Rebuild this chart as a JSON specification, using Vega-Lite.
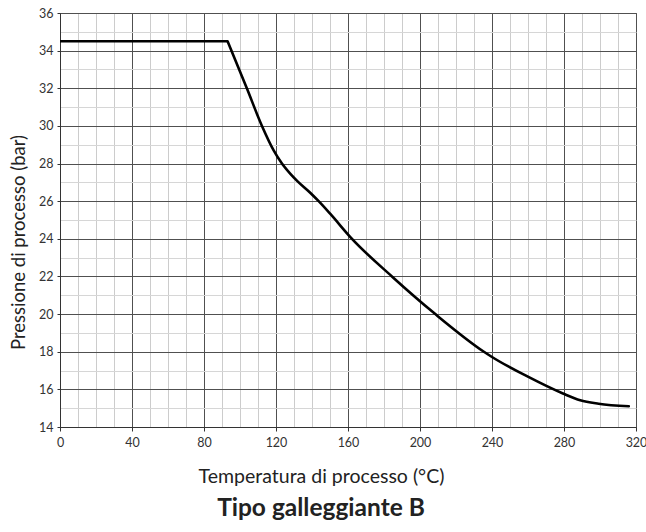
{
  "$schema": "https://vega.github.io/schema/vega-lite/v6.json",
  "autosize": {"type": "none"},
  "padding": {"left": 60, "top": 13, "right": 10, "bottom": 105},
  "width": 576,
  "height": 414,
  "background": "white",
  "config": {
    "view": {"stroke": "#555555", "strokeWidth": 1},
    "font": "Lato"
  },
  "title": {
    "text": "Tipo galleggiante B",
    "orient": "bottom",
    "anchor": "middle",
    "dx": -27,
    "offset": 11,
    "fontSize": 24.5,
    "fontWeight": "bold",
    "color": "#222222",
    "font": "Lato"
  },
  "datasets": {
    "flat": [
      {"t": 0, "p": 34.5},
      {"t": 93.1, "p": 34.5}
    ],
    "curve": [
      {"t": 93.1, "p": 34.5},
      {"t": 103.8, "p": 32.0},
      {"t": 112.2, "p": 30.0},
      {"t": 118.7, "p": 28.7},
      {"t": 123.3, "p": 28.0},
      {"t": 128, "p": 27.45},
      {"t": 132, "p": 27.05},
      {"t": 139, "p": 26.45},
      {"t": 143.7, "p": 26.0},
      {"t": 150.2, "p": 25.32},
      {"t": 161.7, "p": 24.05},
      {"t": 184.4, "p": 22.0},
      {"t": 208.5, "p": 20.0},
      {"t": 235.5, "p": 18.0},
      {"t": 240, "p": 17.72},
      {"t": 259.4, "p": 16.7},
      {"t": 279.4, "p": 15.78},
      {"t": 289, "p": 15.42},
      {"t": 299.2, "p": 15.24},
      {"t": 316, "p": 15.1}
    ]
  },
  "encoding": {
    "x": {
      "field": "t",
      "type": "quantitative",
      "scale": {"domain": [0, 320], "nice": false, "zero": false},
      "axis": {
        "title": "Temperatura di processo (°C)",
        "titleFontSize": 19.5,
        "titleFontWeight": "normal",
        "titleColor": "#222222",
        "titlePadding": 19,
        "titleX": 261,
        "values": [0,10,20,30,40,50,60,70,80,90,100,110,120,130,140,150,160,170,180,190,200,210,220,230,240,250,260,270,280,290,300,310,320],
        "labelExpr": "datum.value % 40 === 0 ? datum.label : ''",
        "labelFontSize": 12.5,
        "labelColor": "#333333",
        "labelPadding": 5,
        "labelFlush": false,
        "grid": true,
        "gridColor": {"condition": {"test": "datum.value % 40 === 0", "value": "#505050"}, "value": "#cccccc"},
        "gridWidth": 1,
        "ticks": true,
        "tickSize": 4,
        "tickColor": "#333333",
        "tickOpacity": {"condition": {"test": "datum.value % 40 === 0", "value": 1}, "value": 0},
        "domainColor": "#333333"
      }
    },
    "y": {
      "field": "p",
      "type": "quantitative",
      "scale": {"domain": [14, 36], "nice": false, "zero": false},
      "axis": {
        "title": "Pressione di processo (bar)",
        "titleFontSize": 18.5,
        "titleFontWeight": "normal",
        "titleColor": "#222222",
        "titlePadding": 10,
        "titleY": 229,
        "values": [14,15,16,17,18,19,20,21,22,23,24,25,26,27,28,29,30,31,32,33,34,35,36],
        "labelExpr": "datum.value % 2 === 0 ? datum.label : ''",
        "labelFontSize": 12.5,
        "labelColor": "#333333",
        "labelPadding": 4,
        "labelFlush": false,
        "grid": true,
        "gridColor": {"condition": {"test": "datum.value % 2 === 0", "value": "#505050"}, "value": "#d6d6d6"},
        "gridWidth": 1,
        "ticks": true,
        "tickSize": 3,
        "tickColor": "#333333",
        "tickOpacity": {"condition": {"test": "datum.value % 2 === 0", "value": 1}, "value": 0},
        "domainColor": "#333333"
      }
    }
  },
  "layer": [
    {
      "data": {"name": "flat"},
      "mark": {"type": "line", "color": "black", "strokeWidth": 2.6, "interpolate": "linear", "strokeCap": "butt", "clip": true}
    },
    {
      "data": {"name": "curve"},
      "mark": {"type": "line", "color": "black", "strokeWidth": 2.6, "interpolate": "monotone", "strokeCap": "round", "clip": true}
    }
  ]
}
